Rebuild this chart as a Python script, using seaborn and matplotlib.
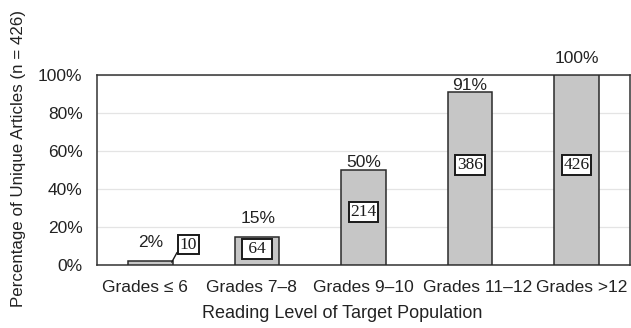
import matplotlib
matplotlib.use("Agg")
import matplotlib.pyplot as plt
import seaborn as sns
import pandas as pd

# Reading level categories, share of articles and article counts
categories = ["Grades \u2264 6", "Grades 7\u20138", "Grades 9\u201310", "Grades 11\u201312", "Grades >12"]
percent = [2, 15, 50, 91, 100]
counts = [10, 64, 214, 386, 426]

df = pd.DataFrame({"level": categories, "pct": percent})

sns.set_theme(style="white")
plt.rcParams["font.family"] = ["Liberation Sans", "DejaVu Sans"]

FS = 12.5
fig = plt.figure(figsize=(6.31, 3.28), dpi=100)
ax = fig.add_axes([0.154, 0.192, 0.844, 0.579])

sns.barplot(data=df, x="level", y="pct", color="#c6c6c6", width=0.42,
            edgecolor="#2a2a2a", linewidth=1.1, saturation=1, ax=ax, zorder=3)

ax.set_ylim(0, 100)
ax.set_xlim(-0.5, 4.5)
ax.set_yticks([0, 20, 40, 60, 80, 100])
ax.set_yticklabels([f"{v}%" for v in [0, 20, 40, 60, 80, 100]], fontsize=FS, color="#222222")
ax.yaxis.grid(True, color="#e4e4e4", linewidth=0.9, zorder=0)
ax.set_axisbelow(True)

# category labels, spread slightly wider than the bars so they don't collide
ax.set_xticks([-0.05, 0.95, 2.0, 3.07, 4.05], labels=categories)
ax.tick_params(axis="x", which="major", length=0, labelsize=FS, labelcolor="#222222", pad=11)
# small ticks sit between bars
ax.set_xticks([0.5, 1.5, 2.5, 3.5], minor=True)
ax.tick_params(axis="x", which="minor", length=4, width=1, color="#333333", direction="out")
ax.tick_params(axis="y", which="major", length=4, width=1, color="#333333", direction="out", pad=6.5)

for s in ax.spines.values():
    s.set_color("#333333")
    s.set_linewidth(1.1)

ax.set_xlabel("Reading Level of Target Population", fontsize=13, color="#222222")
ax.xaxis.set_label_coords(0.46, -0.21)
ax.set_ylabel("Percentage of Unique Articles (n = 426)", fontsize=12.2, color="#222222")
ax.yaxis.set_label_coords(-0.133, 0.56)

# percentage labels above bars
pct_pos = [(0.0, 11.6), (1.01, 24.7), (2, 54.2), (3, 94.7), (4, 108.9)]
for (x, y), p in zip(pct_pos, percent):
    ax.text(x, y, f"{p}%", ha="center", va="center", fontsize=FS, color="#222222", clip_on=False)

# count labels in boxes
cnt_pos = [(0.354, 10.8), (1, 8.4), (2, 27.9), (3, 52.6), (4, 52.6)]
for i, ((x, y), c) in enumerate(zip(cnt_pos, counts)):
    label = f" {c} " if i == 1 else f"{c}"
    box = dict(boxstyle="square,pad=0.1", facecolor="white", edgecolor="#1a1a1a", linewidth=1.4)
    ax.text(x, y, label, ha="center", va="center", fontsize=12.5,
            family=["Liberation Serif", "DejaVu Serif"], color="#1a1a1a", bbox=box, zorder=5)

# leader line from the small first bar to its count box
ax.plot([0.2, 0.25], [percent[0] - 0.5, 6.6], color="#1a1a1a", linewidth=1, zorder=4)

fig.savefig("out.png", dpi=100)
